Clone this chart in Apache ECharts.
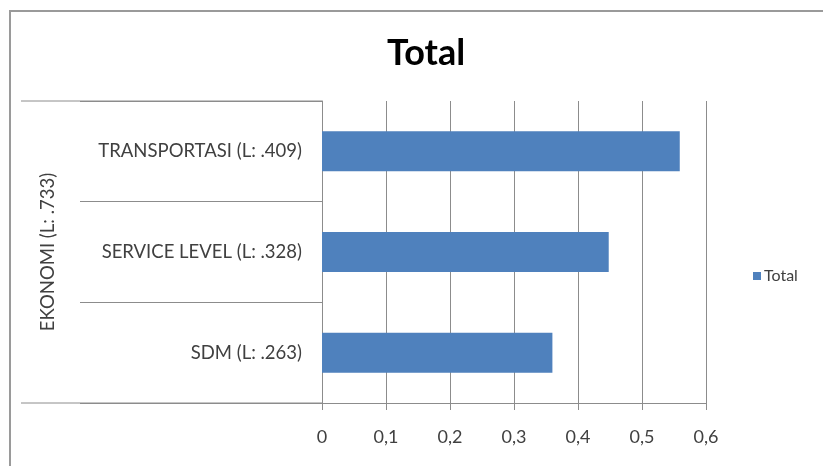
<!DOCTYPE html>
<html>
<head>
<meta charset="utf-8">
<script src="https://cdn.jsdelivr.net/npm/echarts@6/dist/echarts.min.js"></script>
<style>
  html, body { margin: 0; padding: 0; background: #fff; }
  #chart { width: 823px; height: 466px; }
</style>
</head>
<body>
<div id="chart"></div>
<script>
const categories = ['TRANSPORTASI (L: .409)', 'SERVICE LEVEL (L: .328)', 'SDM (L: .263)'];
const totalValues = [0.559, 0.448, 0.36];
const groupLabel = 'EKONOMI (L: .733)';
const seriesName = 'Total';

document.addEventListener('DOMContentLoaded', function () {
    const chart = echarts.init(document.getElementById('chart'));
    const gray = '#8c8c8c';
    const font = 'Lato, "Open Sans", sans-serif';
    const option = {
        animation: false,
        backgroundColor: '#fff',
        textStyle: { fontFamily: font },
        title: {
            text: 'Total',
            left: 382,
            top: 30,
            textStyle: { fontFamily: font, fontSize: 36, fontWeight: 'bold', color: '#000' }
        },
        legend: {
            data: [seriesName],
            left: 748,
            top: 263,
            icon: 'rect',
            itemWidth: 8,
            itemHeight: 8,
            itemGap: 3,
            textStyle: { fontFamily: font, fontSize: 16, color: '#404040', padding: [0, 0, 0, -2] }
        },
        grid: {
            left: 322,
            top: 101,
            width: 384,
            height: 302
        },
        xAxis: {
            type: 'value',
            min: 0,
            max: 0.6,
            interval: 0.1,
            axisLine: { show: true, lineStyle: { color: gray } },
            axisTick: { show: true, length: 7, lineStyle: { color: gray } },
            axisLabel: {
                margin: 25,
                fontSize: 18,
                color: '#404040',
                formatter: function (v) {
                    return String(+v.toFixed(1)).replace('.', ',');
                }
            },
            splitLine: { show: true, lineStyle: { color: gray } }
        },
        yAxis: {
            type: 'category',
            data: categories,
            inverse: true,
            axisLine: { show: true, lineStyle: { color: gray } },
            axisTick: { show: true, length: 242, lineStyle: { color: gray } },
            axisLabel: { margin: 20, fontSize: 18.5, color: '#404040' },
            name: groupLabel,
            nameLocation: 'middle',
            nameRotate: 90,
            nameGap: 264,
            nameTextStyle: { fontFamily: font, fontSize: 18.5, color: '#404040' }
        },
        graphic: [
            {
                type: 'rect',
                shape: { x: 10, y: 11, width: 900, height: 600 },
                style: { fill: null, stroke: '#9a9a9a', lineWidth: 2 }
            },
            {
                type: 'line',
                shape: { x1: 21, y1: 101, x2: 322, y2: 101 },
                style: { stroke: gray, lineWidth: 1 }
            },
            {
                type: 'line',
                shape: { x1: 21, y1: 403, x2: 322, y2: 403 },
                style: { stroke: gray, lineWidth: 1 }
            }
        ],
        series: [
            {
                name: seriesName,
                type: 'bar',
                barWidth: 40,
                itemStyle: { color: '#4f81bd' },
                data: totalValues
            }
        ]
    };
    chart.setOption(option);
});
</script>
</body>
</html>
